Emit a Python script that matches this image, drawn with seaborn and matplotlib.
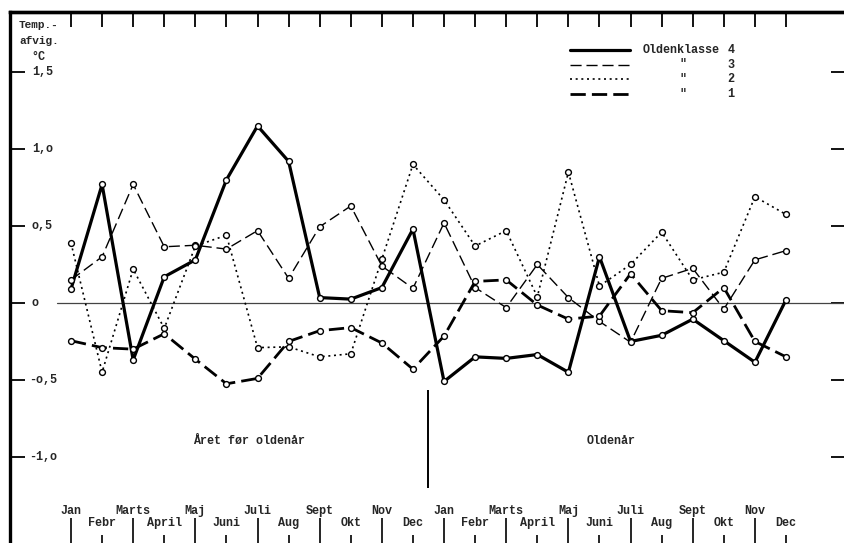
import matplotlib
matplotlib.use("Agg")
import matplotlib.pyplot as plt
import matplotlib.transforms as mtransforms
import seaborn as sns
import pandas as pd

# Monthly temperature deviations (deg C) for the year before and the mast year
months = ["Jan", "Febr", "Marts", "April", "Maj", "Juni",
          "Juli", "Aug", "Sept", "Okt", "Nov", "Dec"] * 2

klasse4 = [0.09, 0.77, -0.37, 0.17, 0.28, 0.80, 1.15, 0.92, 0.035, 0.025, 0.10, 0.48,
           -0.51, -0.35, -0.36, -0.335, -0.45, 0.30, -0.25, -0.21, -0.105, -0.245, -0.385, 0.02]
klasse3 = [0.15, 0.30, 0.77, 0.365, 0.375, 0.35, 0.47, 0.16, 0.495, 0.63, 0.24, 0.095,
           0.52, 0.10, -0.03, 0.25, 0.035, -0.12, -0.255, 0.16, 0.225, -0.04, 0.28, 0.34]
klasse2 = [0.39, -0.45, 0.22, -0.165, 0.37, 0.44, -0.29, -0.285, -0.35, -0.33, 0.285, 0.90,
           0.67, 0.37, 0.47, 0.04, 0.85, 0.11, 0.25, 0.46, 0.15, 0.20, 0.69, 0.575]
klasse1 = [-0.245, -0.29, -0.30, -0.20, -0.365, -0.525, -0.49, -0.25, -0.18, -0.16, -0.26, -0.43,
           -0.215, 0.14, 0.15, -0.013, -0.105, -0.085, 0.19, -0.05, -0.063, 0.10, -0.25, -0.35]

ytick_values = [1.5, 1.0, 0.5, 0.0, -0.5, -1.0]
ytick_labels = ["1,5", "1,o", "o,5", "o", "-o,5", "-1,o"]
legend_labels = ["Oldenklasse", '"', '"', '"']
legend_numbers = ["4", "3", "2", "1"]

sns.set_theme(style="white")
plt.rcParams["font.family"] = ["Liberation Mono", "DejaVu Sans Mono"]
plt.rcParams["font.weight"] = "bold"

W, H = 844, 543
fig = plt.figure(figsize=(W / 100, H / 100), dpi=100)
fx = lambda px: px / W
fy = lambda py: 1 - py / H

# axes frame: the bottom and right edges lie just beyond the sheet
ax = fig.add_axes([fx(10), fy(557), fx(846) - fx(10), fy(12) - fy(557)])

idx = list(range(len(months)))
styles = [
    (klasse4, 2.3, "-"),
    (klasse3, 1.0, (0, (8, 3.5))),
    (klasse2, 1.2, (0, (1.2, 2.2))),
    (klasse1, 2.0, (0, (5.5, 2.2))),
]
for values, lw, ls in styles:
    df = pd.DataFrame({"maaned": idx, "afvigelse": values})
    sns.lineplot(data=df, x="maaned", y="afvigelse", ax=ax, color="black",
                 lw=lw, linestyle=ls, marker="o", markersize=4.2,
                 markerfacecolor="white", markeredgecolor="black",
                 markeredgewidth=1.0, errorbar=None, legend=False)

ax.set_xlim(-1.962, 24.93)
ax.set_ylim(-1.65, 1.89)
ax.set_xlabel("")
ax.set_ylabel("")

# zero reference line
ax.axhline(0, xmin=(57 - 10) / 836, xmax=1, color="#444444", lw=0.9, zorder=1)

# divider between the two years
ax.vlines(11.48, -1.20, -0.565, color="black", lw=1.4)

for side in ["left", "top", "right", "bottom"]:
    ax.spines[side].set_color("black")
ax.spines["left"].set_linewidth(2.4)
ax.spines["top"].set_linewidth(2.4)

# y ticks on both sides, pointing inwards
ax.set_yticks(ytick_values)
ax.tick_params(axis="y", direction="in", length=10.5, width=1.3, color="black",
               left=True, right=True, labelleft=False, labelright=False)
ylab_tr = mtransforms.blended_transform_factory(fig.transFigure, ax.transData)
for v, lab in zip(ytick_values, ytick_labels):
    xpos = 29 if lab.startswith("-") else 32
    ax.text(fx(xpos), v, lab, transform=ylab_tr, ha="left", va="center",
            fontsize=8.5, fontweight="bold")

# bottom month ticks: long under the upper row, short under the lower row
ax.set_xticks(idx[0::2])
ax.set_xticks(idx[1::2], minor=True)
ax.tick_params(axis="x", which="major", direction="in", length=28, width=1.2,
               color="black", bottom=True, top=False, labelbottom=False)
ax.tick_params(axis="x", which="minor", direction="in", length=15.5, width=1.2,
               color="black", bottom=True, top=False, labelbottom=False)

# top month ticks
sec = ax.secondary_xaxis("top")
sec.set_xticks(idx)
sec.tick_params(direction="in", length=10.8, width=1.3, color="black", labeltop=False)
sec.spines["top"].set_linewidth(2.4)
sec.spines["top"].set_color("black")

# month names in two staggered rows
for i, m in enumerate(months):
    yrow = -1.35 if i % 2 == 0 else -1.43
    ax.text(i, yrow, m, ha="center", va="center", fontsize=8.5, fontweight="bold")

# unit label
fig.text(fx(19), fy(25), "Temp.-", ha="left", va="center", fontsize=8, fontweight="bold")
fig.text(fx(19), fy(41), "afvig.", ha="left", va="center", fontsize=8, fontweight="bold")
fig.text(fx(31), fy(57), "°C", ha="left", va="center", fontsize=8.5, fontweight="bold")

# period captions
fig.text(fx(193), fy(441), "Året før oldenår", ha="left", va="center",
         fontsize=8.5, fontweight="bold")
fig.text(fx(587), fy(441), "Oldenår", ha="left", va="center",
         fontsize=8.5, fontweight="bold")

# key
key_rows = [50, 64.5, 79, 94]
for (values, lw, ls), yy, lab, num in zip(styles, key_rows, legend_labels, legend_numbers):
    fig.add_artist(plt.Line2D([fx(570), fx(630)], [fy(yy), fy(yy)], color="black",
                              lw=lw, linestyle=ls, transform=fig.transFigure))
    if lab == '"':
        fig.text(fx(683), fy(yy), lab, ha="center", va="center", fontsize=8.5,
                 fontweight="bold")
    else:
        fig.text(fx(643), fy(yy), lab, ha="left", va="center", fontsize=8.5,
                 fontweight="bold")
    fig.text(fx(731), fy(yy), num, ha="center", va="center", fontsize=8.5,
             fontweight="bold")

fig.savefig("out.png", dpi=100, facecolor="white")
